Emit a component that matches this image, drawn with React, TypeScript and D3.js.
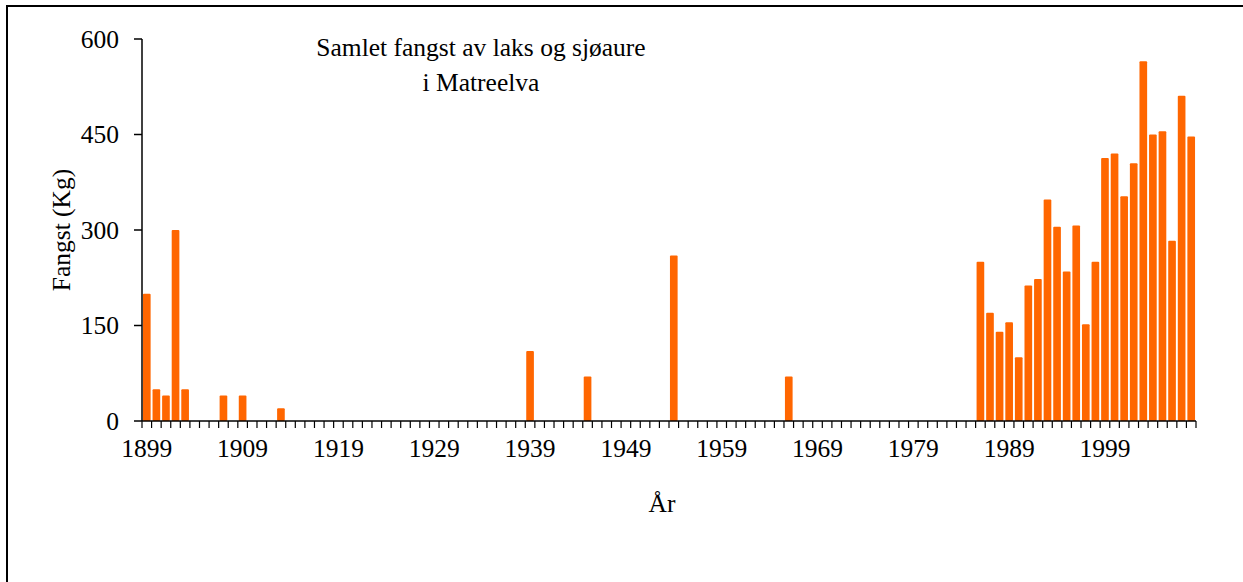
import React from "react";
import * as d3 from "d3";

// Categories: years 1899–2008
const years: string[] = d3.range(1899, 2009).map(String);

// Catch (kg) per year (0 = no bar)
const catchKg: number[] = [
  200, 50, 40, 300, 50, 0, 0, 0, 40, 0, // 1899-1908
  40, 0, 0, 0, 20, 0, 0, 0, 0, 0, // 1909-1918
  0, 0, 0, 0, 0, 0, 0, 0, 0, 0, // 1919-1928
  0, 0, 0, 0, 0, 0, 0, 0, 0, 0, // 1929-1938
  110, 0, 0, 0, 0, 0, 70, 0, 0, 0, // 1939-1948
  0, 0, 0, 0, 0, 260, 0, 0, 0, 0, // 1949-1958
  0, 0, 0, 0, 0, 0, 0, 70, 0, 0, // 1959-1968
  0, 0, 0, 0, 0, 0, 0, 0, 0, 0, // 1969-1978
  0, 0, 0, 0, 0, 0, 0, 250, 170, 140, // 1979-1988
  155, 100, 213, 223, 348, 305, 235, 307, 152, 250, // 1989-1998
  413, 420, 353, 405, 565, 450, 455, 283, 511, 447, // 1999-2008
];

const xTickLabels: string[] = ["1899", "1909", "1919", "1929", "1939", "1949", "1959", "1969", "1979", "1989", "1999"];
const yTicks: number[] = [0, 150, 300, 450, 600];

const titleLines: string[] = ["Samlet fangst av laks og sjøaure", "i Matreelva"];
const yLabel = "Fangst (Kg)";
const xLabel = "År";

const W = 1243;
const H = 582;
const FONT = "'Liberation Serif', 'Times New Roman', 'DejaVu Serif', serif";
const FS = 25.5;
const textStyle: React.CSSProperties = { fontFamily: FONT, fontSize: FS };

export default function App() {
  const x = d3.scaleBand<string>().domain(years).range([142, 1196]).paddingInner(0.2).paddingOuter(0.1);
  const xb = d3.scaleBand<string>().domain(years).range([142, 1196]);
  const y = d3.scaleLinear().domain([0, 600]).range([421, 39]);
  const step = xb.step();

  return (
    <svg width={W} height={H} style={{ position: "absolute", left: 0, top: 0, background: "#fff" }}>
      <rect x={0} y={0} width={W} height={H} fill="#fff" />
      {/* outer frame */}
      <path d={`M7,${H + 5} L7,6 L${W + 5},6`} fill="none" stroke="#000" strokeWidth={2} />

      {/* bars */}
      {years.map((yr, i) =>
        catchKg[i] > 0 ? (
          <rect
            key={yr}
            x={x(yr)!}
            y={y(catchKg[i])}
            width={x.bandwidth()}
            height={y(0) - y(catchKg[i])}
            fill="#FF6600"
            rx={1}
          />
        ) : null
      )}

      {/* y axis */}
      <line x1={142} x2={142} y1={y(600)} y2={y(0)} stroke="#000" strokeWidth={1.5} />
      {yTicks.map((t) => (
        <g key={t}>
          <line x1={134} x2={142} y1={y(t)} y2={y(t)} stroke="#000" strokeWidth={1.5} />
          <text x={119} y={y(t)} dy="0.34em" textAnchor="end" style={textStyle} fill="#000">
            {t}
          </text>
        </g>
      ))}

      {/* x axis */}
      <line x1={142} x2={1196} y1={y(0)} y2={y(0)} stroke="#000" strokeWidth={1.5} />
      {d3.range(years.length + 1).map((i) => {
        const px = 142 + i * step;
        return <line key={i} x1={px} x2={px} y1={y(0)} y2={y(0) + 7} stroke="#000" strokeWidth={1.2} />;
      })}
      {xTickLabels.map((lbl) => (
        <text key={lbl} x={xb(lbl)! + step / 2} y={457} textAnchor="middle" style={textStyle} fill="#000">
          {lbl}
        </text>
      ))}

      {/* axis titles */}
      <text x={662} y={512} textAnchor="middle" style={textStyle} fill="#000">
        {xLabel}
      </text>
      <text transform={`translate(70,${(y(0) + y(600)) / 2}) rotate(-90)`} textAnchor="middle" style={textStyle} fill="#000">
        {yLabel}
      </text>

      {/* chart title */}
      {titleLines.map((l, i) => (
        <text key={i} x={481} y={56 + i * 35} textAnchor="middle" style={textStyle} fill="#000">
          {l}
        </text>
      ))}
    </svg>
  );
}
